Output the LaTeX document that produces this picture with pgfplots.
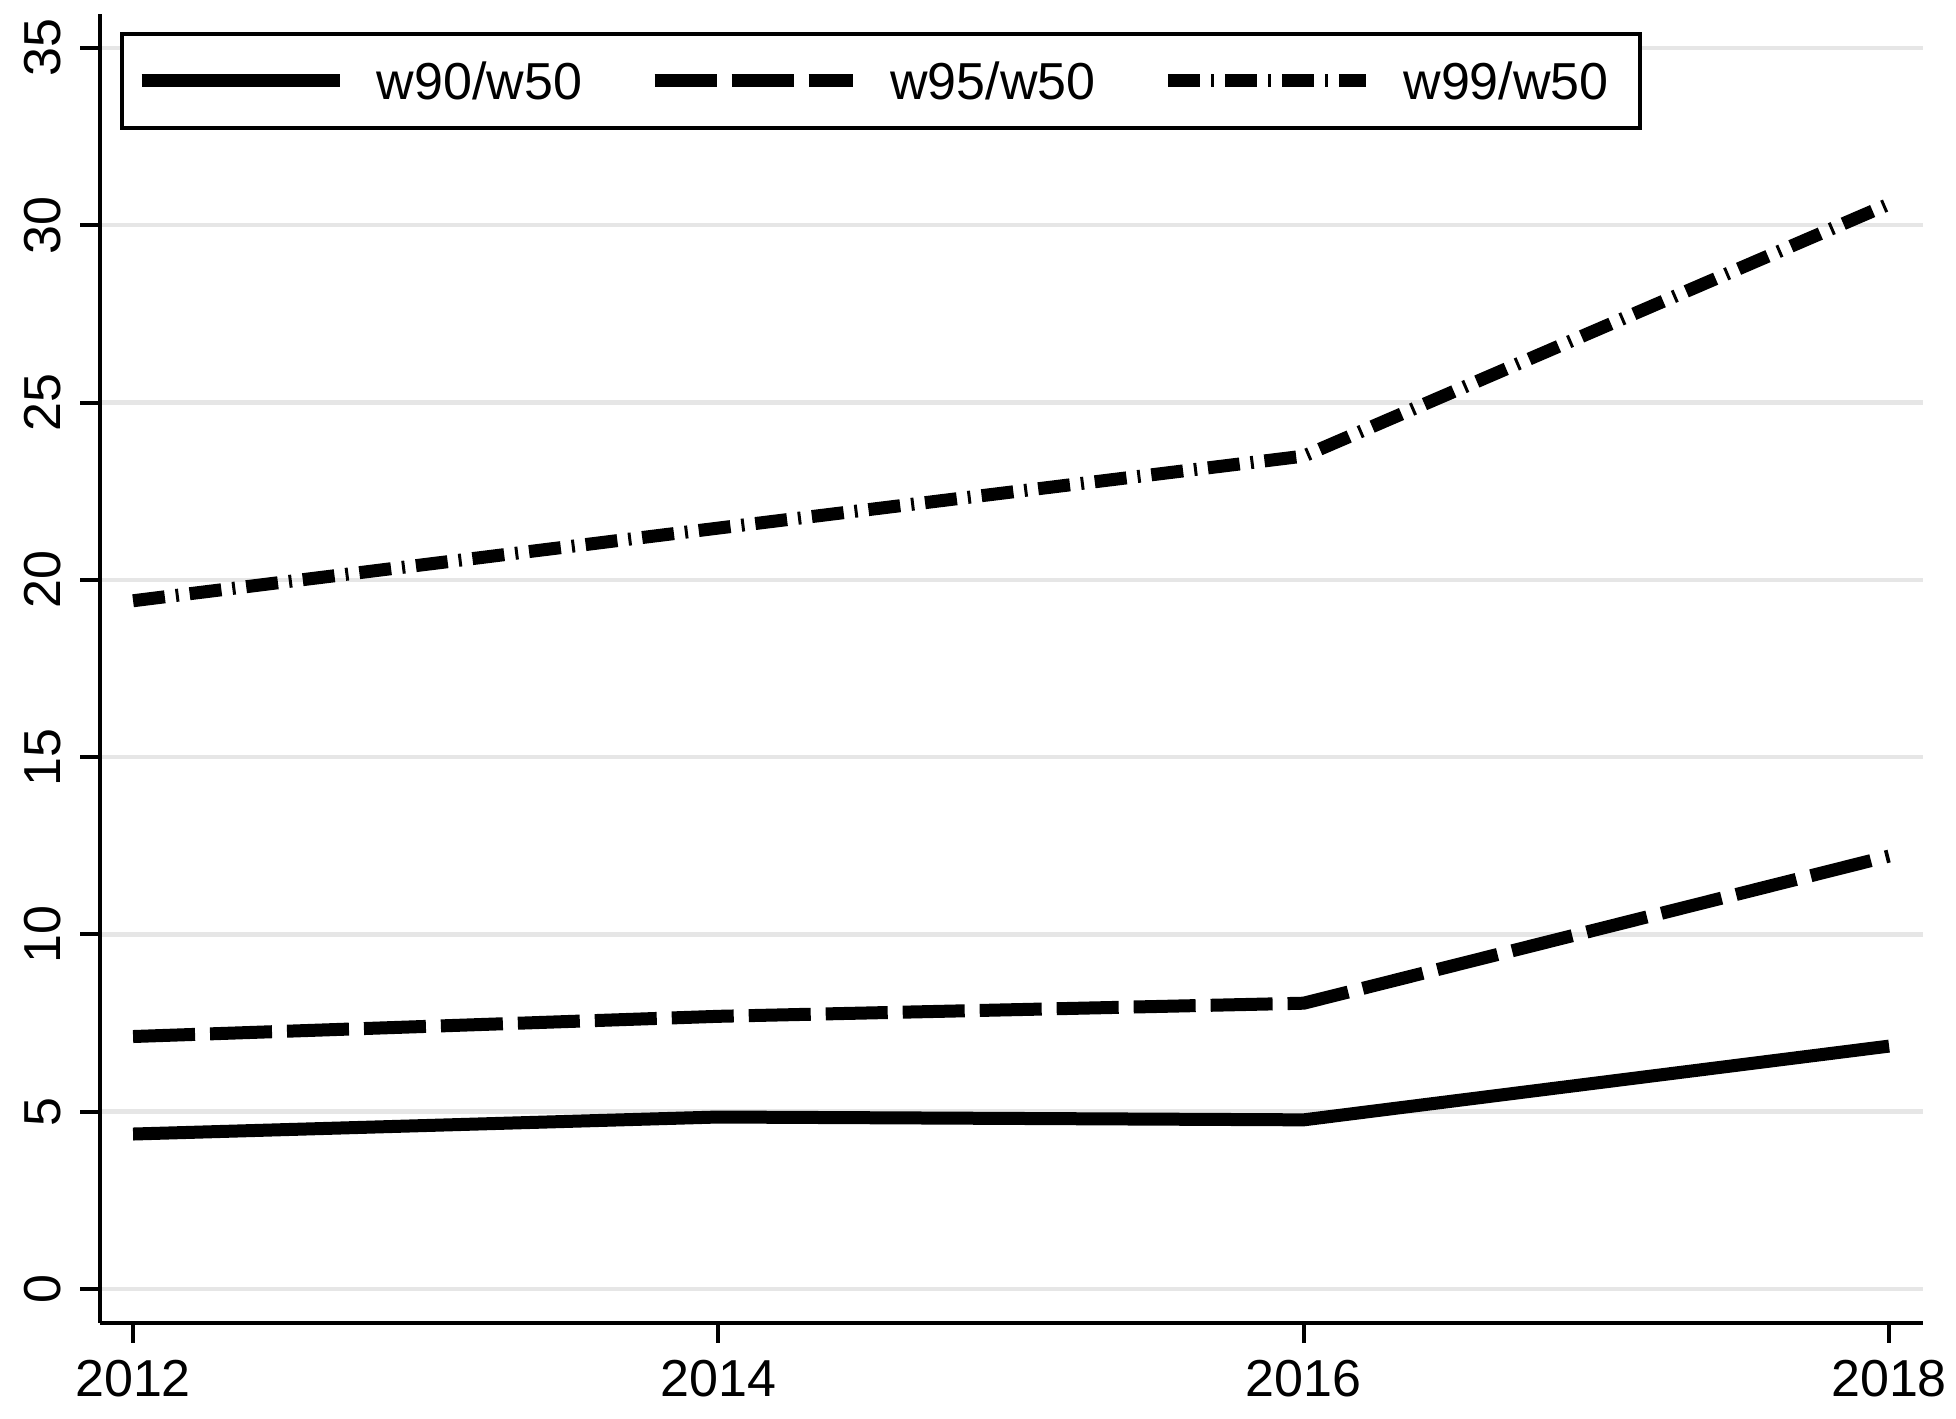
\documentclass[border=0pt]{standalone}
\usepackage{fontspec}
\setmainfont{Liberation Sans}
\usepackage{pgfplots}
\pgfplotsset{compat=1.18}
\definecolor{gridgray}{RGB}{230,230,230}
\begin{document}
\begin{tikzpicture}
\begin{axis}[
  scale only axis,
  width=455.75pt, height=327.25pt,
  xmin=2011.887, xmax=2018.116,
  ymin=-0.959, ymax=35.959,
  axis x line*=bottom, axis y line*=left,
  axis line style={line width=1pt, -},
  xtick={2012,2014,2016,2018},
  ytick={0,5,10,15,20,25,30,35},
  xticklabels={2012,2014,2016,2018},
  tick align=outside,
  major tick length=5pt,
  tick style={line width=1pt, black},
  ymajorgrids,
  grid style={line width=1.1pt, gridgray},
  /pgf/number format/assume math mode=true,
  ticklabel style={font=\fontsize{13}{15.6}\selectfont, inner sep=0pt},
  yticklabel style={xshift=-4.5pt, rotate=90, anchor=south},
  xticklabel style={yshift=-4pt, anchor=north},
  legend columns=3,
  legend image code/.code={\draw[#1] (0pt,0pt) -- (49.5pt,0pt);},
  legend style={at={(axis description cs:0,1)}, anchor=north west,
    xshift=5pt, yshift=-4.5pt,
    draw=black, line width=1pt,
    inner xsep=3.25pt, inner ysep=6.95pt,
    font=\fontsize{13}{15.6}\selectfont,
    nodes={inner sep=0pt, text height=9.5pt, text depth=0pt},
    /tikz/every odd column/.append style={column sep=7.75pt},
    /tikz/every even column/.append style={column sep=16.5pt}},
]
\addplot[black, line width=3.25pt] coordinates {(2012,4.37) (2014,4.85) (2016,4.77) (2018,6.85)};
\addlegendentry{w90/w50}
\addplot[black, line width=3.25pt, dash pattern=on 15.5pt off 3.75pt] coordinates {(2012,7.12) (2014,7.69) (2016,8.06) (2018,12.21)};
\addlegendentry{w95/w50}
\addplot[black, line width=3.25pt, dash pattern=on 8pt off 2.75pt on 0.75pt off 2.75pt] coordinates {(2012,19.41) (2014,21.46) (2016,23.49) (2018,30.6)};
\addlegendentry{w99/w50\hspace*{4.5pt}}
\end{axis}
\pgfresetboundingbox
\path[use as bounding box] (current axis.south west) ++(-25pt,-24pt) rectangle ++(489pt,354.75pt);
\end{tikzpicture}
\end{document}
